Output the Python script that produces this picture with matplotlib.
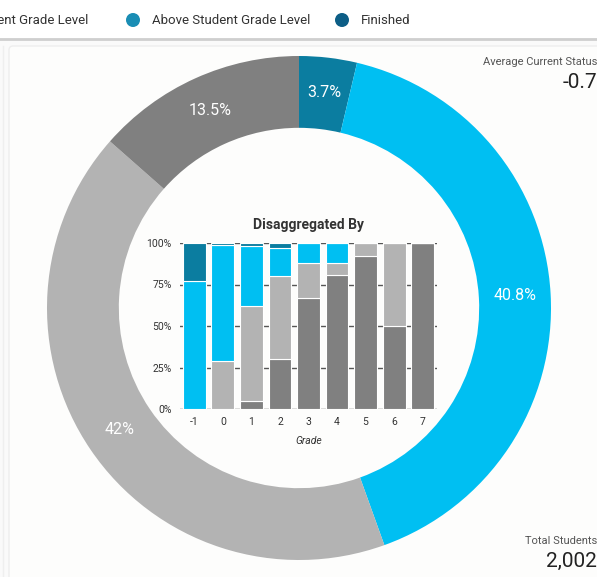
import matplotlib
matplotlib.use("Agg")
import matplotlib.pyplot as plt
from matplotlib.patches import Rectangle, FancyBboxPatch, Circle
import numpy as np

plt.rcParams['font.family'] = ['Roboto', 'DejaVu Sans']

# ---- data ----
pie_labels = ["Finished", "Above Student Grade Level", "At Student Grade Level", "Below Student Grade Level"]
pie_values = [3.7, 40.8, 42.0, 13.5]
pie_texts = ["3.7%", "40.8%", "42%", "13.5%"]

grades = ["-1", "0", "1", "2", "3", "4", "5", "6", "7"]
below = [0, 0, 5, 30, 67, 81, 92, 50, 100]
at = [0, 29, 57, 50, 21, 7, 8, 50, 0]
above = [77, 70, 36, 17, 12, 12, 0, 0, 0]
finished = [23, 1, 2, 3, 0, 0, 0, 0, 0]

legend_names = ["At Student Grade Level", "Above Student Grade Level", "Finished"]

C_BELOW = "#808080"
C_AT = "#B3B3B3"
C_ABOVE = "#00BFF2"
C_FIN = "#0B7DA0"

W, H = 597, 577
fig = plt.figure(figsize=(W/100, H/100), dpi=100)
fig.patch.set_facecolor("#FAFAFA")

def fx(x): return x / W
def fy(y): return 1 - y / H

# background layer
bg = fig.add_axes([0, 0, 1, 1])
bg.set_xlim(0, W); bg.set_ylim(H, 0); bg.axis("off")
bg.add_patch(Rectangle((0, 0), W, 38, facecolor="white", edgecolor="none"))
bg.plot([0, W], [39, 39], color="#CFCFCF", lw=2)
bg.add_patch(FancyBboxPatch((9, 46), 620, 560, boxstyle="round,pad=0,rounding_size=4",
                            facecolor="#FDFDFC", edgecolor="#EEEEEE", lw=1))
bg.plot([3, 3], [46, H], color="#EFEFEF", lw=1)

# legend (first entry clipped at the left edge)
leg_colors = ["#9E9E9E", "#1A8DB4", "#0D5E86"]
bg.text(88, 20, legend_names[0], fontsize=9.5, color="#333333", va="center", ha="right")
for name, c, x in zip(legend_names[1:], leg_colors[1:], [133, 342]):
    bg.add_patch(Circle((x, 20), 7, facecolor=c, edgecolor="none"))
    bg.text(x + 19, 20, name, fontsize=9.5, color="#333333", va="center", ha="left")

# right-side stats
bg.text(597, 62, "Average Current Status", fontsize=8, color="#555555", ha="right", va="center")
bg.text(597, 82, "-0.7", fontsize=15, color="#222222", ha="right", va="center")
bg.text(597, 541, "Total Students", fontsize=8, color="#555555", ha="right", va="center")
bg.text(597, 561, "2,002", fontsize=15, color="#222222", ha="right", va="center")

# ---- donut ----
cx, cy, R = 299, 308, 252
pax = fig.add_axes([fx(cx - R), fy(cy + R), 2*R/W, 2*R/H])
wedges, texts = pax.pie(pie_values, colors=[C_FIN, C_ABOVE, C_AT, C_BELOW], startangle=90,
                        counterclock=False, radius=1.0,
                        wedgeprops=dict(width=0.285, edgecolor="none"))
for w, t in zip(wedges, pie_texts):
    ang = np.deg2rad((w.theta1 + w.theta2) / 2)
    r = 0.86
    pax.text(r*np.cos(ang), r*np.sin(ang), t, color="white", fontsize=11.5,
             ha="center", va="center")
pax.set_xlim(-1, 1); pax.set_ylim(-1, 1)
pax.set_aspect("auto")
pax.axis("off")

# ---- stacked bar chart ----
bax = fig.add_axes([fx(180), fy(409), (437-180)/W, (409-243)/H])
x = np.arange(len(grades))
b = np.zeros(len(grades))
for vals, c in [(below, C_BELOW), (at, C_AT), (above, C_ABOVE), (finished, C_FIN)]:
    v = np.array(vals, dtype=float)
    bax.bar(x, v, bottom=b, width=0.8, color=c, edgecolor="white", linewidth=0.8, zorder=3)
    b += v
bax.set_xlim(-0.5, len(grades) - 0.5)
bax.set_ylim(0, 100)
bax.set_yticks([0, 25, 50, 75, 100])
bax.set_yticklabels(["0%", "25%", "50%", "75%", "100%"])
bax.set_xticks(x)
bax.set_xticklabels(grades)
bax.tick_params(length=0, labelsize=7.5, colors="#333333", pad=6)
bax.yaxis.grid(True, color="#555555", lw=1, zorder=0)
for s in bax.spines.values():
    s.set_visible(False)
bax.set_facecolor("none")
bax.set_title("Disaggregated By", fontsize=10, fontweight="bold", color="#333333", pad=10)
bax.set_xlabel("Grade", fontsize=7.5, style="italic", color="#333333", labelpad=6)

fig.savefig("out.png", dpi=100, facecolor=fig.get_facecolor())
